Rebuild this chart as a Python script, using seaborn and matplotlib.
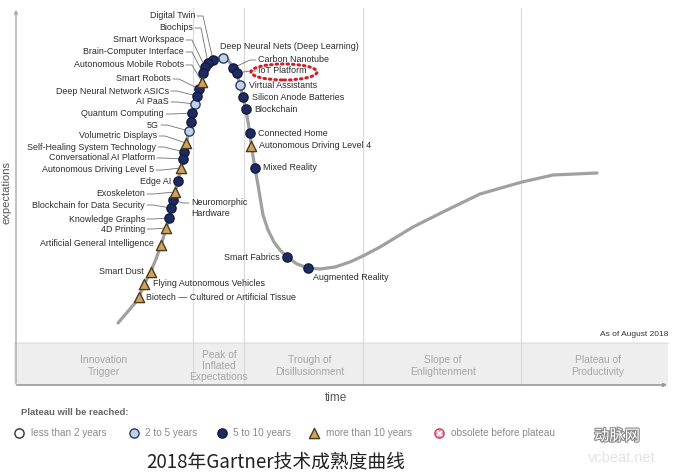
import matplotlib
matplotlib.use("Agg")
import matplotlib.pyplot as plt
import matplotlib.patheffects as pe
from matplotlib.patches import Ellipse, Rectangle
import seaborn as sns
import pandas as pd

# ---------------- data (time units, expectation units) -------------
curve_t = [118, 124, 130, 135, 139, 144, 151, 156, 161, 166, 169, 172, 175, 178, 181, 184,
           187, 190, 193, 197, 201, 204, 208, 213, 218, 223, 228, 233, 237, 240, 243, 246,
           248, 250, 252, 255, 258, 263, 268, 274, 280, 287, 297, 308, 320, 335, 350, 365,
           380, 413, 447, 480, 522, 553, 597]
curve_e = [150, 157, 164, 170, 176, 188, 202, 214, 228, 244, 255, 266, 280, 292, 305, 320,
           333, 349, 363, 378, 389, 401, 409, 413, 415, 415, 413, 406, 399, 388, 376, 363,
           351, 339, 323, 305, 288, 258, 243, 231, 223, 216, 209, 205, 204, 206, 211, 218,
           226, 246, 263, 279, 291, 298, 300]

tech_names = ["Digital Twin", "Biochips", "Smart Workspace", "Brain-Computer Interface",
              "Autonomous Mobile Robots", "Smart Robots", "Deep Neural Network ASICs", "AI PaaS",
              "Quantum Computing", "", "5G", "Volumetric Displays", "Self-Healing System Technology",
              "Conversational AI Platform", "Autonomous Driving Level 5", "Edge AI", "Exoskeleton",
              "Neuromorphic Hardware", "Blockchain for Data Security", "Knowledge Graphs",
              "4D Printing", "Artificial General Intelligence", "Smart Dust",
              "Flying Autonomous Vehicles", "Biotech — Cultured or Artificial Tissue",
              "Deep Neural Nets (Deep Learning)", "Carbon Nanotube", "IoT Platform",
              "Virtual Assistants", "Silicon Anode Batteries", "Blockchain", "Connected Home",
              "Autonomous Driving Level 4", "Mixed Reality", "Smart Fabrics", "Augmented Reality"]
tech_time = [213, 208, 205, 203, 202, 199, 197, 195, 192, 191, 189, 186, 184, 183, 181, 178,
             175, 173, 171, 169, 166, 161, 151, 144, 139,
             223, 233, 237, 240, 243, 246, 250, 251, 255, 287, 308]
tech_expect = [413, 410, 406, 400, 391, 384, 377, 369, 360, 351, 342, 330, 321, 314, 305, 292,
               281, 273, 265, 255, 245, 228, 201, 189, 176,
               415, 405, 400, 388, 376, 364, 340, 327, 305, 216, 205]
# 0: <2 yrs, 1: 2-5 yrs, 2: 5-10 yrs, 3: >10 yrs
tech_cat = [2, 2, 2, 2, 3, 2, 2, 1, 2, 2, 1, 3, 2, 2, 3, 2, 3, 2, 2, 2, 3, 3, 3, 3, 3,
            1, 2, 2, 1, 2, 2, 2, 3, 2, 2, 2]

phase_names = ["Innovation\nTrigger", "Peak of\nInflated\nExpectations", "Trough of\nDisillusionment",
               "Slope of\nEnlightenment", "Plateau of\nProductivity"]
legend_labels = ["less than 2 years", "2 to 5 years", "5 to 10 years", "more than 10 years",
                 "obsolete before plateau"]

# ---------------- styles / layout ----------------
H = 473
def Y(py):
    return H - py

cat_style = {
    0: dict(marker="o", fc="white", ec="#333333", s=44),
    1: dict(marker="o", fc="#bfd2e8", ec="#2b3a66", s=44),
    2: dict(marker="o", fc="#1d2b5e", ec="#111a44", s=44),
    3: dict(marker="^", fc="#cfa262", ec="#4d3b1c", s=54),
}

# label layout: name -> (x, py, ha, leader)
label_layout = {
    "Digital Twin": (195, 16, "right", True),
    "Biochips": (193, 28, "right", True),
    "Smart Workspace": (184, 40, "right", True),
    "Brain-Computer Interface": (184, 52, "right", True),
    "Autonomous Mobile Robots": (184, 65, "right", True),
    "Smart Robots": (171, 79, "right", True),
    "Deep Neural Network ASICs": (169, 91, "right", True),
    "AI PaaS": (169, 102, "right", True),
    "Quantum Computing": (164, 114, "right", True),
    "5G": (159, 125, "right", True),
    "Volumetric Displays": (157, 136, "right", True),
    "Self-Healing System Technology": (156, 147, "right", True),
    "Conversational AI Platform": (155, 158, "right", True),
    "Autonomous Driving Level 5": (154, 170, "right", True),
    "Edge AI": (171, 182, "right", False),
    "Exoskeleton": (145, 194, "right", True),
    "Blockchain for Data Security": (145, 205, "right", True),
    "Knowledge Graphs": (145, 219, "right", True),
    "4D Printing": (145, 229, "right", True),
    "Artificial General Intelligence": (154, 244, "right", False),
    "Smart Dust": (144, 272, "right", False),
    "Flying Autonomous Vehicles": (153, 284, "left", False),
    "Biotech — Cultured or Artificial Tissue": (146, 297, "left", False),
    "Deep Neural Nets (Deep Learning)": (220, 47, "left", False),
    "Carbon Nanotube": (258, 60, "left", True),
    "IoT Platform": (258, 71, "left", True),
    "Virtual Assistants": (249, 86, "left", False),
    "Silicon Anode Batteries": (252, 97, "left", False),
    "Blockchain": (254, 109, "left", False),
    "Connected Home": (258, 133, "left", False),
    "Autonomous Driving Level 4": (259, 146, "left", False),
    "Mixed Reality": (263, 168, "left", False),
    "Smart Fabrics": (280, 257, "right", False),
    "Augmented Reality": (313, 278, "left", False),
    "Neuromorphic Hardware": (191, 208, "left", True),
}
wrapped = {"Neuromorphic Hardware": "Neuromorphic\nHardware"}

sns.set_theme(style="white")
plt.rcParams["font.family"] = ["Liberation Sans", "DejaVu Sans"]

fig = plt.figure(figsize=(6.77, 4.73), dpi=100)
ax = fig.add_axes([0, 0, 1, 1])
ax.set_xlim(0, 677)
ax.set_ylim(0, H)
ax.axis("off")

# phase band and dividers
ax.add_patch(Rectangle((14, Y(385)), 654, 43, facecolor="#eeeeee", edgecolor="none", zorder=0))
ax.plot([14, 668], [Y(343), Y(343)], color="#e0e0e0", lw=0.8, zorder=0.5)
for xd in [193, 244, 363, 521]:
    ax.plot([xd, xd], [Y(385), Y(8)], color="#dadada", lw=0.9, zorder=0.6)
ax.annotate("", xy=(670, Y(385)), xytext=(14, Y(385)),
            arrowprops=dict(arrowstyle="-|>", color="#999999", lw=1.2, mutation_scale=5))
ax.annotate("", xy=(16, Y(7)), xytext=(16, Y(386)),
            arrowprops=dict(arrowstyle="-|>", color="#aaaaaa", lw=1.0, mutation_scale=5))

phase_x = [104, 219, 310, 443, 598]
phase_y = [366, 366, 366, 366, 366]
for name, px, py in zip(phase_names, phase_x, phase_y):
    ax.text(px, Y(py), name, ha="center", va="center", fontsize=7.4, color="#a6a6a6",
            linespacing=1.15)

ax.text(336, Y(398), "time", ha="center", va="center", fontsize=8.5, color="#555555")
ax.text(7, Y(192), "expectations", ha="center", va="center", rotation=90, fontsize=8,
        color="#555555")
ax.text(668, Y(334), "As of August 2018", ha="right", va="center", fontsize=6, color="#333333")

# curve
sns.lineplot(x=curve_t, y=curve_e, sort=False, estimator=None, color="#a0a0a0", lw=2.3,
             ax=ax, zorder=2)

df = pd.DataFrame({"name": tech_names, "time": tech_time, "expect": tech_expect, "cat": tech_cat})

# labels and leaders
for _, r in df.iterrows():
    if r["name"] not in label_layout:
        continue
    lx, lpy, ha, leader = label_layout[r["name"]]
    txt = wrapped.get(r["name"], r["name"])
    ax.text(lx, Y(lpy), txt, ha=ha, va="center", fontsize=6.4, color="#2b2b2b", zorder=4,
            linespacing=1.15)
    if leader:
        ly = lpy - 5 if "\n" in txt else lpy
        if ha == "right":
            xs = [lx + 2, lx + 8, r["time"]]
        else:
            xs = [lx - 2, lx - 8, r["time"]]
        ys = [Y(ly), Y(ly), r["expect"]]
        ax.plot(xs, ys, color="#707070", lw=0.6, zorder=3)

# markers
for c, st in cat_style.items():
    sub = df[df["cat"] == c]
    sns.scatterplot(data=sub, x="time", y="expect", marker=st["marker"], color=st["fc"],
                    edgecolor=st["ec"], linewidth=1.0, s=st["s"], ax=ax, zorder=5, legend=False)

# highlight ellipse around IoT Platform
ell = Ellipse((284, Y(72)), 66, 16, fill=False, edgecolor="#cf1f28", lw=2.2,
              linestyle=(0, (0.5, 1.3)), zorder=6)
ell.set_capstyle("round")
ax.add_patch(ell)

ax.set_xlim(0, 677)
ax.set_ylim(0, H)
ax.axis("off")

# legend
ax.text(21, Y(412), "Plateau will be reached:", ha="left", va="center", fontsize=6.8,
        color="#666666", fontweight="bold")
leg_mx = [19, 134, 222, 314, 439]
leg_tx = [31, 145, 233, 326, 451]
leg_styles = [cat_style[0], cat_style[1], cat_style[2], cat_style[3],
              dict(marker="o", fc="#e9a4b6", ec="#c4405f", s=44)]
for mx, tx, st, lab in zip(leg_mx, leg_tx, leg_styles, legend_labels):
    ax.scatter([mx], [Y(433)], marker=st["marker"], c=st["fc"], edgecolors=st["ec"],
               linewidths=1.0, s=st["s"], zorder=5)
    ax.text(tx, Y(433), lab, ha="left", va="center", fontsize=7.2, color="#8a8a8a")
ax.scatter([leg_mx[4]], [Y(433)], marker="x", c="white", s=14, linewidths=1.0, zorder=6)

# watermark
ax.text(622, Y(458), "vcbeat.net", ha="center", va="center", fontsize=10.5, color="#e3e3e3",
        zorder=1)
ax.text(617, Y(436), "动脉网", ha="center", va="center", fontsize=11, color="white",
        family=["Noto Sans CJK SC", "DejaVu Sans"], zorder=7,
        path_effects=[pe.withStroke(linewidth=1.6, foreground="#8a8a8a")])

# caption
ax.text(276, Y(462), "2018年Gartner技术成熟度曲线", ha="center", va="center", fontsize=13.5,
        color="#222222", family=["Noto Sans CJK SC", "DejaVu Sans"])

fig.savefig("out.png", dpi=100, facecolor="white")
